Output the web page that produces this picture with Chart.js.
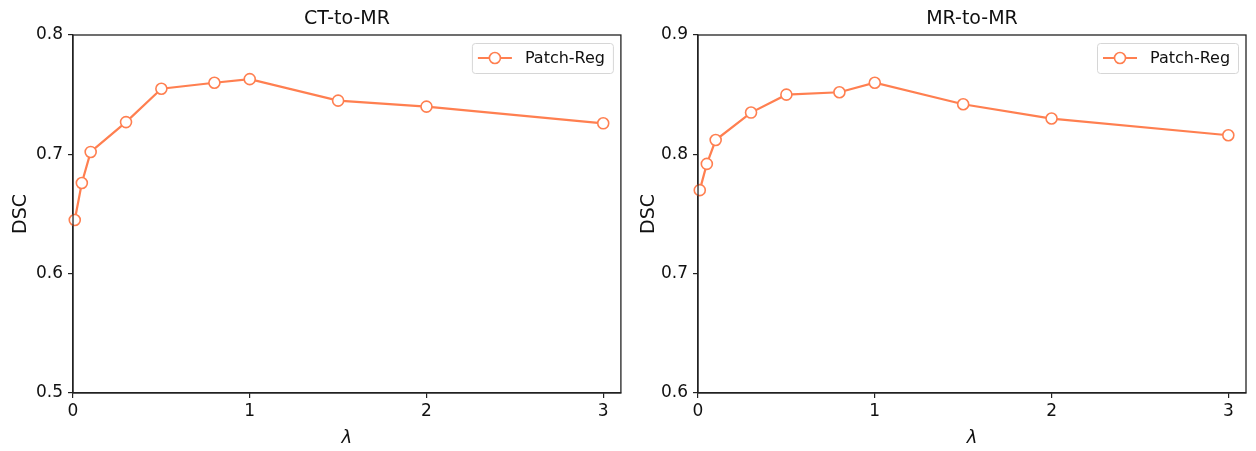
<!DOCTYPE html>
<html lang="en">
<head>
  <meta charset="UTF-8">
  <title>Patch-Reg DSC vs lambda</title>
  <script src="https://cdn.jsdelivr.net/npm/chart.js"></script>
  <style>
    body { margin: 0; background: #fff; }
    .panel { position: absolute; top: 0; width: 628px; height: 451px; }
    #leftPanel { left: 0; }
    #rightPanel { left: 628px; }
  </style>
</head>
<body>
  <div class="panel" id="leftPanel"><canvas id="ctChart" width="628" height="451"></canvas></div>
  <div class="panel" id="rightPanel"><canvas id="mrChart" width="628" height="451"></canvas></div>

  <script>
    // values
    const lambdas = [0.01, 0.05, 0.1, 0.3, 0.5, 0.8, 1, 1.5, 2, 3];
    const ctToMr = [0.645, 0.676, 0.702, 0.727, 0.755, 0.760, 0.763, 0.745, 0.740, 0.726];
    const mrToMr = [0.770, 0.792, 0.812, 0.835, 0.850, 0.852, 0.860, 0.842, 0.830, 0.816];
    const xTicks = [0, 1, 2, 3];
    const ctTicks = [0.5, 0.6, 0.7, 0.8];
    const mrTicks = [0.6, 0.7, 0.8, 0.9];
    const seriesName = "Patch-Reg";

    const lineColor = "#ff7f50";
    const axisColor = "#222";
    const font = "'DejaVu Sans', sans-serif";

    // spines on top / right like matplotlib
    const framePlugin = {
      id: "frame",
      afterDatasetsDraw(chart) {
        const a = chart.chartArea, ctx = chart.ctx;
        ctx.save();
        ctx.strokeStyle = axisColor;
        ctx.lineWidth = 1.3;
        ctx.strokeRect(a.left, a.top, a.right - a.left, a.bottom - a.top);
        ctx.restore();
      }
    };

    const titlePlugin = {
      id: "panelTitle",
      afterDraw(chart, args, opts) {
        const a = chart.chartArea, ctx = chart.ctx;
        ctx.save();
        ctx.font = "19px " + font;
        ctx.fillStyle = "#111";
        ctx.textAlign = "center";
        ctx.textBaseline = "middle";
        ctx.fillText(opts.text, (a.left + a.right) / 2, 19);
        ctx.restore();
      }
    };

    // boxed legend in the upper right corner of the axes
    const legendPlugin = {
      id: "boxLegend",
      afterDraw(chart) {
        const a = chart.chartArea, ctx = chart.ctx;
        const ds = chart.data.datasets[0];
        const w = 141, h = 30;
        const x = a.right - 8 - w, y = a.top + 8;
        ctx.save();
        ctx.fillStyle = "rgba(255,255,255,0.8)";
        ctx.strokeStyle = "#d6d6d6";
        ctx.lineWidth = 1;
        ctx.beginPath();
        ctx.roundRect(x + 0.5, y + 0.5, w, h, 3);
        ctx.fill();
        ctx.stroke();
        const cy = y + h / 2;
        ctx.strokeStyle = lineColor;
        ctx.lineWidth = 2.2;
        ctx.beginPath();
        ctx.moveTo(x + 6, cy);
        ctx.lineTo(x + 40, cy);
        ctx.stroke();
        ctx.fillStyle = "#fff";
        ctx.lineWidth = 1.6;
        ctx.beginPath();
        ctx.arc(x + 23, cy, 5.5, 0, Math.PI * 2);
        ctx.fill();
        ctx.stroke();
        ctx.fillStyle = "#111";
        ctx.font = "16px " + font;
        ctx.textBaseline = "middle";
        ctx.fillText(ds.label, x + 53, cy + 1);
        ctx.restore();
      }
    };

    function makeChart(id, title, values, yTicks, leftWidth, rightPad) {
      return new Chart(document.getElementById(id), {
        type: "line",
        data: {
          datasets: [{
            label: seriesName,
            data: lambdas.map((x, i) => ({ x: x, y: values[i] })),
            borderColor: lineColor,
            borderWidth: 2.2,
            pointRadius: 5.5,
            pointBackgroundColor: "#fff",
            pointBorderColor: lineColor,
            pointBorderWidth: 1.6,
            tension: 0,
            clip: false
          }]
        },
        options: {
          responsive: false,
          animation: false,
          layout: { padding: { top: 35, right: rightPad, left: 0, bottom: 0 } },
          plugins: {
            legend: { display: false },
            tooltip: { enabled: false },
            panelTitle: { text: title }
          },
          scales: {
            x: {
              type: "linear",
              min: 0,
              max: 3.1,
              afterBuildTicks: s => { s.ticks = xTicks.map(v => ({ value: v })); },
              afterFit: s => { s.height = 58; },
              ticks: { color: "#111", font: { family: font, size: 17 }, padding: 3, maxRotation: 0, callback: v => String(v) },
              grid: { display: true, drawOnChartArea: false, drawTicks: true, tickLength: 5, color: axisColor, lineWidth: 1.2 },
              border: { display: true, color: axisColor, width: 1.3 },
              title: { display: true, text: "λ", color: "#111", font: { family: font, size: 18, style: "italic" }, padding: { top: 0, bottom: 2 } }
            },
            y: {
              min: yTicks[0],
              max: yTicks[yTicks.length - 1],
              afterBuildTicks: s => { s.ticks = yTicks.map(v => ({ value: v })); },
              afterFit: s => { s.width = leftWidth; },
              ticks: { color: "#111", font: { family: font, size: 17 }, padding: 5, callback: v => v.toFixed(1) },
              grid: { display: true, drawOnChartArea: false, drawTicks: true, tickLength: 5, color: axisColor, lineWidth: 1.2 },
              border: { display: true, color: axisColor, width: 1.3 },
              title: { display: true, text: "DSC", color: "#111", font: { family: font, size: 19 }, padding: { top: 10, bottom: 0 } }
            }
          }
        },
        plugins: [framePlugin, legendPlugin, titlePlugin]
      });
    }

    makeChart("ctChart", "CT-to-MR", ctToMr, ctTicks, 73, 7);
    makeChart("mrChart", "MR-to-MR", mrToMr, mrTicks, 70, 10);
  </script>
</body>
</html>
